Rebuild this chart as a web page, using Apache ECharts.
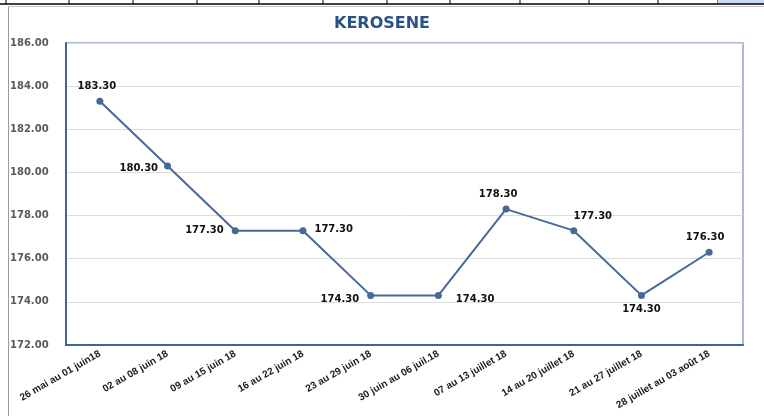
<!DOCTYPE html>
<html>
<head>
<meta charset="utf-8">
<script src="https://cdn.jsdelivr.net/npm/echarts@6/dist/echarts.min.js"></script>
<style>
  html, body { margin: 0; padding: 0; background: #fff; }
  #chart { width: 764px; height: 416px; }
</style>
</head>
<body>
<div id="chart"></div>
<script>
// Données
const semaines = [
  "26 mai au 01 juin18",
  "02 au 08 juin 18",
  "09 au 15 juin 18",
  "16 au 22 juin 18",
  "23 au 29 juin 18",
  "30 juin au 06 juil.18",
  "07 au 13 juillet 18",
  "14 au 20 juillet 18",
  "21 au 27 juillet 18",
  "28 juillet au 03 août 18"
];
const prixKerosene = [183.3, 180.3, 177.3, 177.3, 174.3, 174.3, 178.3, 177.3, 174.3, 176.3];

// position des étiquettes (mise en page, pas des données)
const labelPlacement = [
  { position: "top", offset: [-3, 0] },
  { position: "left", offset: [0, 2] },
  { position: "left", offset: [-2, 0] },
  { position: "right", offset: [2, -1] },
  { position: "left", offset: [-2, 4] },
  { position: "right", offset: [8, 4] },
  { position: "top", offset: [-8, 0] },
  { position: "top", offset: [19, 0] },
  { position: "bottom", offset: [0, 0] },
  { position: "top", offset: [-4, 0] }
];

// lignes de cellules du tableur en haut
const cellBorders = [6, 69, 133, 197, 259, 323, 387, 450, 520, 589, 658, 718];

const graphics = cellBorders.map((x) => ({
  type: "line",
  shape: { x1: x, y1: 0, x2: x, y2: 4 },
  style: { stroke: "#000", lineWidth: 1 },
  silent: true
}));
graphics.push(
  { type: "rect", shape: { x: 718, y: 0, width: 46, height: 4 }, style: { fill: "#C6D9F0" }, silent: true },
  { type: "line", shape: { x1: 0, y1: 4, x2: 764, y2: 4 }, style: { stroke: "#000", lineWidth: 1.5 }, silent: true },
  { type: "line", shape: { x1: 8.5, y1: 6, x2: 8.5, y2: 416 }, style: { stroke: "#9B9B9B", lineWidth: 1 }, silent: true },
  { type: "line", shape: { x1: 8, y1: 6.5, x2: 764, y2: 6.5 }, style: { stroke: "#C8C8C8", lineWidth: 1 }, silent: true }
);

const myChart = echarts.init(document.getElementById("chart"));

const option = {
  animation: false,
  backgroundColor: "#fff",
  title: {
    text: "KEROSENE",
    left: "center",
    top: 11,
    textStyle: {
      fontFamily: "DejaVu Sans",
      fontSize: 16,
      fontWeight: "bold",
      color: "#2A5287"
    }
  },
  graphic: graphics,
  grid: {
    left: 66,
    right: 21,
    top: 43,
    bottom: 71,
    outerBoundsMode: "none",
    show: true,
    borderColor: "#8EA3C0",
    borderWidth: 1.5
  },
  xAxis: {
    type: "category",
    data: semaines,
    boundaryGap: true,
    axisLine: { show: true, lineStyle: { color: "#3E6499", width: 2 } },
    axisTick: { show: false },
    axisLabel: {
      interval: 0,
      rotate: 30,
      margin: 8,
      fontFamily: "Liberation Sans Narrow, Liberation Sans",
      fontSize: 10,
      fontWeight: "bold",
      color: "#1a1a1a"
    }
  },
  yAxis: {
    type: "value",
    min: 172,
    max: 186,
    interval: 2,
    axisLine: { show: true, lineStyle: { color: "#3E6499", width: 2 } },
    axisTick: { show: false },
    splitLine: { lineStyle: { color: "#DCDCDC", width: 1 } },
    axisLabel: {
      align: "left",
      margin: 56,
      fontFamily: "DejaVu Sans",
      fontSize: 10,
      fontWeight: "bold",
      color: "#595959",
      formatter: (v) => v.toFixed(2)
    }
  },
  series: [
    {
      name: "KEROSENE",
      type: "line",
      data: prixKerosene.map((v, i) => ({
        value: v,
        label: labelPlacement[i]
      })),
      symbol: "circle",
      symbolSize: 7,
      lineStyle: { color: "#46699A", width: 2 },
      itemStyle: { color: "#46699A" },
      label: {
        show: true,
        distance: 6,
        fontFamily: "DejaVu Sans",
        fontSize: 10,
        fontWeight: "bold",
        color: "#111",
        formatter: (p) => p.value.toFixed(2)
      }
    }
  ]
};

myChart.setOption(option);
</script>
</body>
</html>
